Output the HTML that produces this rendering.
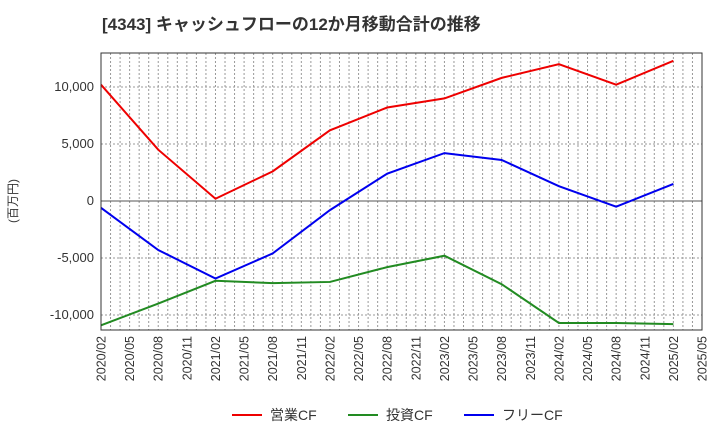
<!DOCTYPE html>
<html><head><meta charset="utf-8"><style>
body{margin:0;background:#fff;}
svg{display:block;font-family:"Liberation Sans","Noto Sans CJK JP",sans-serif;}
</style></head><body>
<svg id="c" width="720" height="440">
<text x="102" y="30" font-size="17" font-weight="bold" fill="#333">[4343]  キャッシュフローの12か月移動合計の推移</text>
<text transform="translate(17,201) rotate(-90)" font-size="12" fill="#333" text-anchor="middle">(百万円)</text>
<g id="grid"></g><g id="lines"></g><g id="axes"></g>
<g font-size="14" fill="#333">
<line x1="232" y1="415" x2="262" y2="415" stroke="#e00" stroke-width="2"/><text x="270" y="420">営業CF</text>
<line x1="348" y1="415" x2="378" y2="415" stroke="#228b22" stroke-width="2"/><text x="386" y="420">投資CF</text>
<line x1="464" y1="415" x2="494" y2="415" stroke="#00e" stroke-width="2"/><text x="502" y="420">フリーCF</text>
</g>
</svg>
<script>
const tickLabels=["2020/02","2020/05","2020/08","2020/11","2021/02","2021/05","2021/08","2021/11","2022/02","2022/05","2022/08","2022/11","2023/02","2023/05","2023/08","2023/11","2024/02","2024/05","2024/08","2024/11","2025/02","2025/05"];
const yTicks=[-10000,-5000,0,5000,10000];
const dates=[0,2,4,6,8,10,12,14,16,18,20];
const operatingCF=[10200,4500,200,2600,6200,8200,9000,10800,12000,10200,12300];
const investingCF=[-10900,-9000,-7000,-7200,-7100,-5800,-4800,-7300,-10700,-10700,-10800];
const freeCF=[-600,-4300,-6800,-4600,-800,2400,4200,3600,1300,-500,1500];
const L=101,R=702,T=53,B=330;
const X=q=>L+q*(R-L)/21;
const Y=v=>201-v*(114/10000);
const NS="http://www.w3.org/2000/svg";
function mk(t,a,p){const e=document.createElementNS(NS,t);for(const k in a)e.setAttribute(k,a[k]);p.appendChild(e);return e;}
const g=document.getElementById('grid'),ax=document.getElementById('axes'),ln=document.getElementById('lines');
for(let m=1;m<63;m++){const x=L+m*(R-L)/63;const e=mk('line',{x1:x,x2:x,y1:T,y2:B,stroke:'#999','stroke-dasharray':'2,2','stroke-width':1},g);

}
yTicks.forEach(v=>{const y=Y(v);const e=mk('line',{x1:L,x2:R,y1:y,y2:y,stroke:v==0?'#555':'#999','stroke-dasharray':v==0?'':'2,2','stroke-width':1},g);


const t=mk('text',{x:L-7,y:y+4,'text-anchor':'end','font-size':13,fill:'#333'},ax);t.textContent=v.toLocaleString('en-US');

});
const fr=mk('rect',{x:L,y:T,width:R-L,height:B-T,fill:'none',stroke:'#333','stroke-width':1},ax);


tickLabels.forEach((s,i)=>{const x=X(i);const t=mk('text',{transform:`translate(${x+4.5},${B+6}) rotate(-90)`,'text-anchor':'end','font-size':12.5,fill:'#333'},ax);t.textContent=s;

});
[[operatingCF,'#e00','operating-cf-line'],[investingCF,'#228b22','investing-cf-line'],[freeCF,'#00e','free-cf-line']].forEach(([d,c,n])=>{
const p=mk('polyline',{points:d.map((v,i)=>X(dates[i])+','+Y(v)).join(' '),fill:'none',stroke:c,'stroke-width':2},ln);

});
</script>
</body></html>
